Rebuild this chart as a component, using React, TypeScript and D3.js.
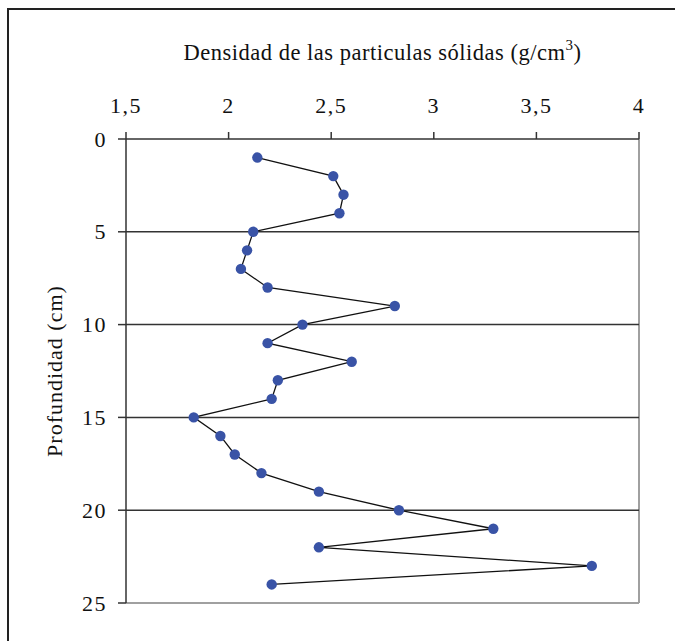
import React from "react";
import * as d3 from "d3";

// profundidad (cm) y densidad (g/cm3)
const depths = [1, 2, 3, 4, 5, 6, 7, 8, 9, 10, 11, 12, 13, 14, 15, 16, 17, 18, 19, 20, 21, 22, 23, 24];
const densities = [
  2.14, 2.51, 2.56, 2.54, 2.12, 2.09, 2.06, 2.19, 2.81, 2.36, 2.19, 2.6,
  2.24, 2.21, 1.83, 1.96, 2.03, 2.16, 2.44, 2.83, 3.29, 2.44, 3.77, 2.21
];
const xTicks = [1.5, 2, 2.5, 3, 3.5, 4];
const yTicks = [0, 5, 10, 15, 20, 25];

const W = 675;
const H = 641;
const margin = { top: 139, right: 36, bottom: 38, left: 126 };
const font = "'Liberation Serif', 'Times New Roman', serif";

const App = () => {
  const x = d3.scaleLinear().domain([1.5, 4]).range([margin.left, W - margin.right]);
  const y = d3.scaleLinear().domain([0, 25]).range([margin.top, H - margin.bottom]);

  const points = depths.map((d, i) => ({ depth: d, value: densities[i] }));
  const line = d3
    .line<{ depth: number; value: number }>()
    .x(d => x(d.value))
    .y(d => y(d.depth));

  const fmt = (v: number) => String(v).replace(".", ",");
  const [x0, x1] = x.range();
  const [y0, y1] = y.range();

  return (
    <svg
      width={W}
      height={H}
      style={{ position: "absolute", left: 0, top: 0, background: "#fff" }}
    >
      {/* marco exterior */}
      <rect x={8} y={9} width={W + 20} height={H + 20} fill="none" stroke="#222" strokeWidth={2} />

      {/* borde derecho e inferior del area */}
      <line x1={x1} x2={x1} y1={y0} y2={y1} stroke="#a0a0a0" strokeWidth={2} />
      <line x1={x0} x2={x1} y1={y1} y2={y1} stroke="#a0a0a0" strokeWidth={2} />

      {/* lineas de division */}
      {yTicks.filter(t => t > 0 && t < 25).map(t => (
        <line key={t} x1={x0} x2={x1} y1={y(t)} y2={y(t)} stroke="#333" strokeWidth={1.5} />
      ))}

      {/* eje superior */}
      <line x1={x0} x2={x1} y1={y0} y2={y0} stroke="#333" strokeWidth={1.5} />
      {xTicks.map(t => (
        <g key={t}>
          <line x1={x(t)} x2={x(t)} y1={y0} y2={y0 - 7} stroke="#333" strokeWidth={1.5} />
          <text x={x(t)} y={113} textAnchor="middle" fontFamily={font} fontSize={22} letterSpacing={1.5} fill="#111">
            {fmt(t)}
          </text>
        </g>
      ))}

      {/* eje izquierdo */}
      <line x1={x0} x2={x0} y1={y0} y2={y1} stroke="#333" strokeWidth={1.5} />
      {yTicks.map(t => (
        <g key={t}>
          <line x1={x0 - 8} x2={x0} y1={y(t)} y2={y(t)} stroke="#333" strokeWidth={1.5} />
          <text x={107} y={y(t) + 7.5} textAnchor="end" fontFamily={font} fontSize={22} letterSpacing={1.5} fill="#111">
            {t}
          </text>
        </g>
      ))}

      {/* serie */}
      <path d={line(points) ?? ""} fill="none" stroke="#111" strokeWidth={1.3} />
      {points.map((p, i) => (
        <circle key={i} cx={x(p.value)} cy={y(p.depth)} r={5.2} fill="#3953a6" />
      ))}

      {/* titulos */}
      <text x={(x0 + x1) / 2} y={60} textAnchor="middle" fontFamily={font} fontSize={22.5} letterSpacing={0.5} fill="#111">
        Densidad de las particulas sólidas (g/cm
        <tspan dy={-10} fontSize={15}>3</tspan>
        <tspan dy={10}>)</tspan>
      </text>
      <text
        transform={`translate(62, ${(y0 + y1) / 2}) rotate(-90)`}
        textAnchor="middle"
        fontFamily={font}
        fontSize={22}
        letterSpacing={1}
        fill="#111"
      >
        Profundidad (cm)
      </text>
    </svg>
  );
};

export default App;
